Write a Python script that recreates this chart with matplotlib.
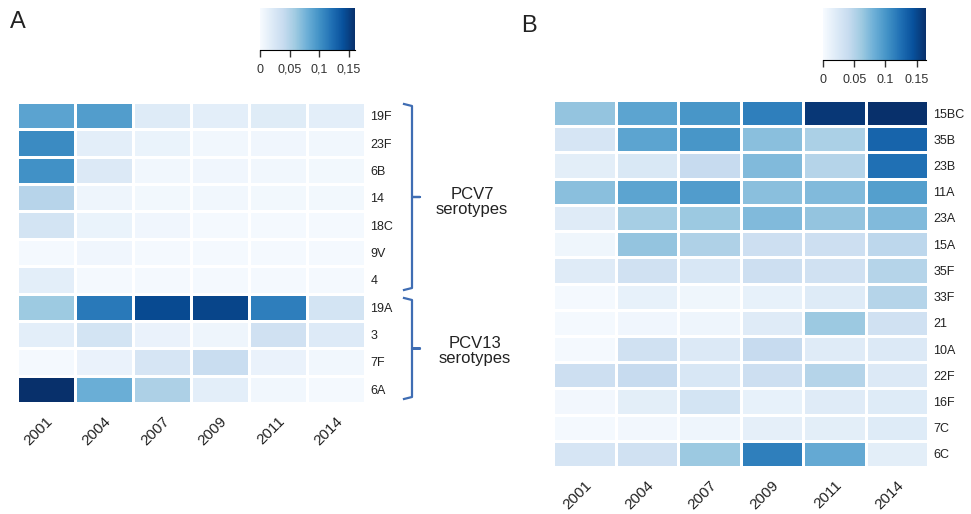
import numpy as np
import matplotlib
matplotlib.use("Agg")
import matplotlib.pyplot as plt

plt.rcParams['font.family'] = ['Liberation Sans', 'DejaVu Sans']

years = ["2001", "2004", "2007", "2009", "2011", "2014"]

rows_a = ["19F", "23F", "6B", "14", "18C", "9V", "4", "19A", "3", "7F", "6A"]
vals_a = [
    [0.088, 0.092, 0.020, 0.016, 0.019, 0.016],  # 19F
    [0.104, 0.016, 0.010, 0.005, 0.006, 0.005],  # 23F
    [0.100, 0.022, 0.005, 0.006, 0.005, 0.004],  # 6B
    [0.048, 0.008, 0.004, 0.005, 0.004, 0.004],  # 14
    [0.029, 0.010, 0.006, 0.003, 0.003, 0.003],  # 18C
    [0.003, 0.006, 0.003, 0.003, 0.003, 0.003],  # 9V
    [0.016, 0.003, 0.003, 0.003, 0.003, 0.003],  # 4
    [0.060, 0.115, 0.144, 0.147, 0.112, 0.029],  # 19A
    [0.016, 0.029, 0.011, 0.008, 0.032, 0.021],  # 3
    [0.003, 0.011, 0.027, 0.038, 0.011, 0.005],  # 7F
    [0.160, 0.080, 0.053, 0.016, 0.005, 0.003],  # 6A
]

rows_b = ["15BC", "35B", "23B", "11A", "23A", "15A", "35F", "33F", "21",
          "10A", "22F", "16F", "7C", "6C"]
vals_b = [
    [0.066, 0.090, 0.100, 0.115, 0.160, 0.165],  # 15BC
    [0.028, 0.090, 0.100, 0.070, 0.055, 0.132],  # 35B
    [0.017, 0.025, 0.041, 0.074, 0.050, 0.124],  # 23B
    [0.070, 0.090, 0.096, 0.070, 0.074, 0.094],  # 11A
    [0.020, 0.058, 0.063, 0.074, 0.066, 0.074],  # 23A
    [0.007, 0.066, 0.053, 0.036, 0.036, 0.046],  # 15A
    [0.020, 0.033, 0.026, 0.036, 0.033, 0.050],  # 35F
    [0.003, 0.013, 0.007, 0.013, 0.021, 0.050],  # 33F
    [0.003, 0.006, 0.008, 0.020, 0.063, 0.033],  # 21
    [0.003, 0.033, 0.023, 0.041, 0.020, 0.023],  # 10A
    [0.036, 0.041, 0.026, 0.036, 0.050, 0.023],  # 22F
    [0.005, 0.017, 0.030, 0.013, 0.020, 0.021],  # 16F
    [0.003, 0.005, 0.008, 0.015, 0.017, 0.021],  # 7C
    [0.028, 0.033, 0.063, 0.115, 0.086, 0.017],  # 6C
]

cbar_ticks = [0, 0.05, 0.1, 0.15]
cbar_labels_a = ["0", "0,05", "0,1", "0,15"]
cbar_labels_b = ["0", "0.05", "0.1", "0.15"]

cmap = plt.get_cmap("Blues")
W, H = 971, 514
fig = plt.figure(figsize=(W / 100, H / 100), dpi=100)


def fa(x0, y0, x1, y1):
    return [x0 / W, 1 - y1 / H, (x1 - x0) / W, (y1 - y0) / H]


def heat(rect, vals, rows, vmax):
    ax = fig.add_axes(rect)
    arr = np.array(vals)
    m = ax.pcolormesh(arr, cmap=cmap, vmin=0, vmax=vmax,
                      edgecolors="white", linewidth=1.8)
    ax.set_xlim(0, arr.shape[1])
    ax.set_ylim(arr.shape[0], 0)
    ax.set_xticks(np.arange(arr.shape[1]) + 0.5)
    ax.set_xticklabels(years, rotation=45, ha="right", va="top",
                       rotation_mode="anchor", fontsize=11, color="#222222")
    ax.set_yticks(np.arange(arr.shape[0]) + 0.5)
    ax.set_yticklabels(rows, fontsize=9, color="#222222")
    ax.yaxis.tick_right()
    ax.tick_params(length=0, pad=4)
    ax.tick_params(axis="x", pad=8)
    for s in ax.spines.values():
        s.set_visible(False)
    return m


def cbar(rect, mappable, labels):
    cax = fig.add_axes(rect)
    cb = fig.colorbar(mappable, cax=cax, orientation="horizontal")
    cb.set_ticks(cbar_ticks)
    cb.set_ticklabels(labels)
    cb.outline.set_visible(False)
    cax.tick_params(labelsize=9, length=5, width=1, pad=5,
                    color="#333333", labelcolor="#333333")
    cax.spines["bottom"].set_visible(True)
    return cb


ma = heat(fa(17, 102, 365, 403), vals_a, rows_a, 0.16)
mb = heat(fa(553, 100, 928, 467), vals_b, rows_b, 0.165)

cbar(fa(260, 8, 355, 50), ma, cbar_labels_a)
cbar(fa(823, 8, 926, 60), mb, cbar_labels_b)

# overlay for annotations (pixel coords)
ov = fig.add_axes([0, 0, 1, 1], facecolor="none")
ov.set_xlim(0, W)
ov.set_ylim(H, 0)
ov.axis("off")

bc = "#3f6db3"


def bracket(y0, y1, x=412):
    ym = (y0 + y1) / 2
    ov.plot([x - 8, x, x, x + 8, x, x, x - 8],
            [y0, y0 + 2, ym, ym, ym, y1 - 2, y1],
            color=bc, lw=1.6, solid_joinstyle="round")


bracket(104, 290)
bracket(298, 399)
ov.text(472, 202, "PCV7\nserotypes", ha="center", va="center", fontsize=12,
        color="#222222", linespacing=1.05)
ov.text(475, 351, "PCV13\nserotypes", ha="center", va="center", fontsize=12,
        color="#222222", linespacing=1.05)

ov.text(10, 22, "A", fontsize=17, ha="left", va="center", color="#222222")
ov.text(521, 26, "B", fontsize=17, ha="left", va="center", color="#222222")

fig.savefig("out.png", dpi=100)
